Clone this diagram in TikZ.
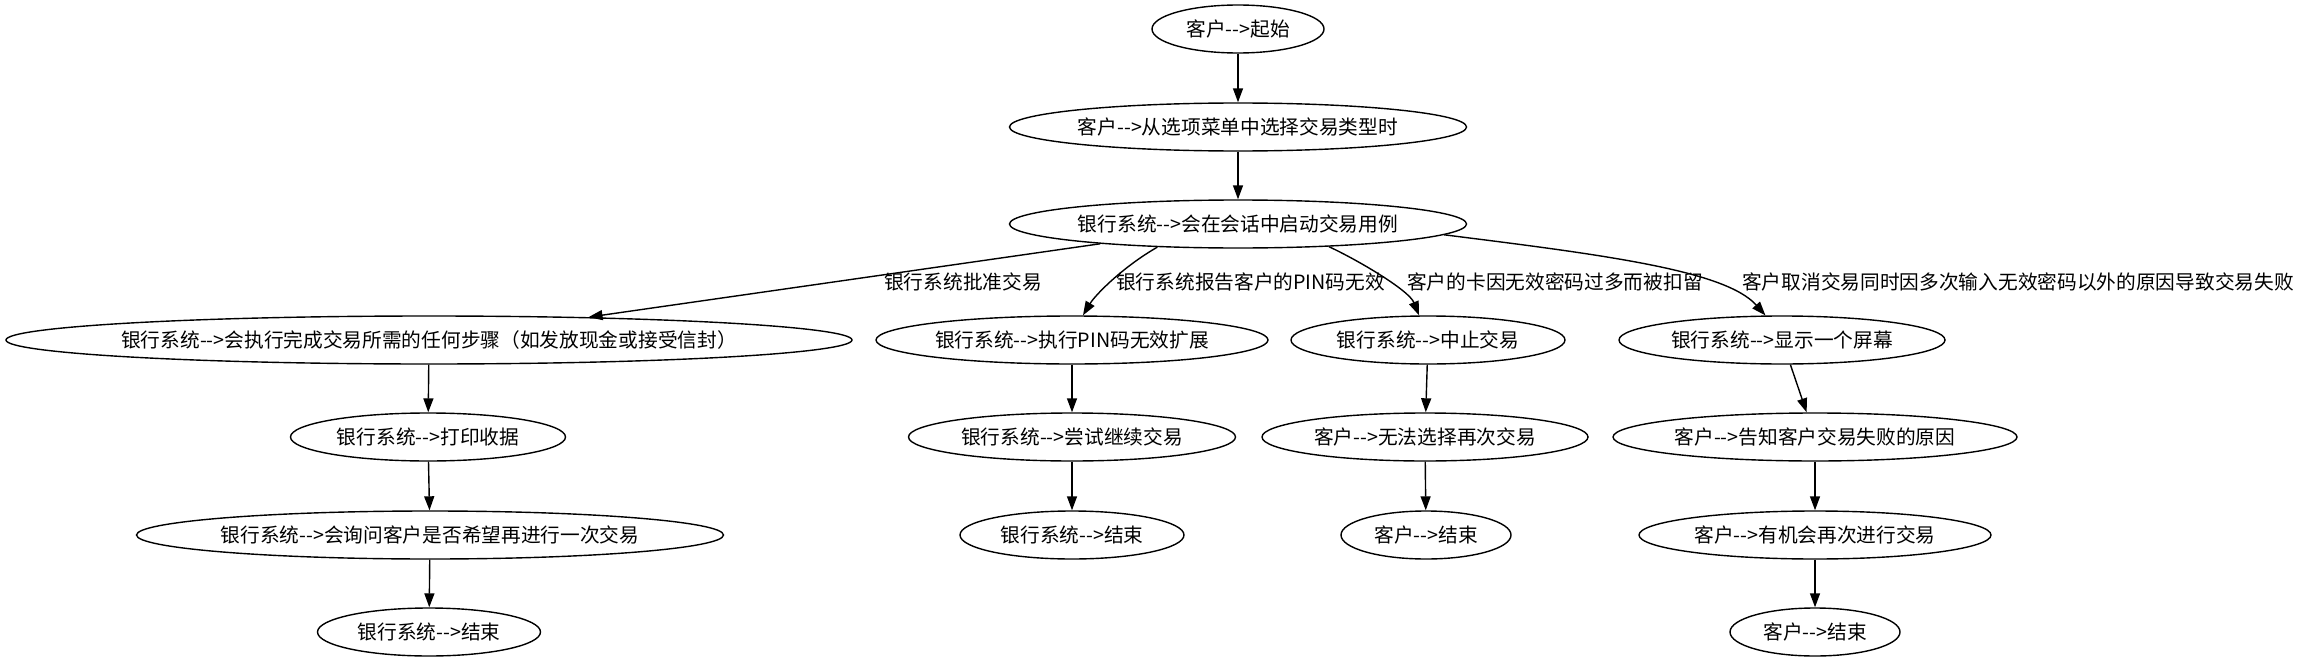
\documentclass[tikz,border=0pt]{standalone}
\usepackage{fontspec}
\setmainfont{Noto Sans CJK SC}[Ligatures=TeXOff]
\usetikzlibrary{shapes.geometric,arrows.meta}
\newcommand{\zt}[1]{\makebox[0pt]{#1}}
\begin{document}
\begin{tikzpicture}[x=1pt,y=-1pt,
  st/.style={ellipse,draw,line width=1.4pt,inner sep=0pt,minimum height=48pt,font=\fontsize{19.7}{24}\selectfont},
  lb/.style={anchor=west,inner sep=0pt,font=\fontsize{19.7}{24}\selectfont},
  ar/.style={-{Triangle[length=14pt,width=10pt]},line width=1.4pt}]
\useasboundingbox (0,0) rectangle (2305,661);
% rows 1-3
\node[st,minimum width=172pt] (r1) at (1238,29) {\zt{客户-->起始}};
\node[st,minimum width=457pt] (r2) at (1238,127) {\zt{客户-->从选项菜单中选择交易类型时}};
\node[st,minimum width=457pt] (r3) at (1238,224) {\zt{银行系统-->会在会话中启动交易用例}};
% row 4
\node[st,minimum width=846pt] (n4a) at (429,340) {\zt{银行系统-->会执行完成交易所需的任何步骤（如发放现金或接受信封）}};
\node[st,minimum width=392pt] (n4b) at (1072,340) {\zt{银行系统-->执行PIN码无效扩展}};
\node[st,minimum width=274pt] (n4c) at (1428,340) {\zt{银行系统-->中止交易}};
\node[st,minimum width=326pt] (n4d) at (1782,340) {\zt{银行系统-->显示一个屏幕}};
% row 5
\node[st,minimum width=275pt] (n5a) at (428,437) {\zt{银行系统-->打印收据}};
\node[st,minimum width=327pt] (n5b) at (1072,437) {\zt{银行系统-->尝试继续交易}};
\node[st,minimum width=326pt] (n5c) at (1425,437) {\zt{客户-->无法选择再次交易}};
\node[st,minimum width=404pt] (n5d) at (1815,437) {\zt{客户-->告知客户交易失败的原因}};
% row 6
\node[st,minimum width=587pt] (n6a) at (430,535) {\zt{银行系统-->会询问客户是否希望再进行一次交易}};
\node[st,minimum width=224pt] (n6b) at (1072,535) {\zt{银行系统-->结束}};
\node[st,minimum width=170pt] (n6c) at (1426,535) {\zt{客户-->结束}};
\node[st,minimum width=352pt] (n6d) at (1815,535) {\zt{客户-->有机会再次进行交易}};
% row 7
\node[st,minimum width=223pt] (n7a) at (429,632) {\zt{银行系统-->结束}};
\node[st,minimum width=170pt] (n7d) at (1815,632) {\zt{客户-->结束}};
% edge labels
\node[lb] (la) at (884,282) {银行系统批准交易};
\node[lb] (lbb) at (1116,282) {银行系统报告客户的PIN码无效};
\node[lb] (lc) at (1407,282) {客户的卡因无效密码过多而被扣留};
\node[lb] (ld) at (1742,282) {客户取消交易同时因多次输入无效密码以外的原因导致交易失败};
% edges
\draw[ar] (r1) -- (r2);
\draw[ar] (r2) -- (r3);
\draw[ar] (r3) -- (n4a);
\draw[ar] (r3.196) .. controls +(-35,20) and +(12,-20) .. (n4b.66);
\draw[ar] (r3.346.5) .. controls +(30,14) and +(-10,-25) .. (n4c.110);
\draw[ar] (r3.357.6) .. controls +(160,20) and +(-40,-45) .. (n4d.124);
\draw[ar] (n4a) -- (n5a);
\draw[ar] (n5a) -- (n6a);
\draw[ar] (n6a) -- (n7a);
\draw[ar] (n4b) -- (n5b);
\draw[ar] (n5b) -- (n6b);
\draw[ar] (n4c) -- (n5c);
\draw[ar] (n5c) -- (n6c);
\draw[ar] (n4d) -- (n5d);
\draw[ar] (n5d) -- (n6d);
\draw[ar] (n6d) -- (n7d);
\end{tikzpicture}
\end{document}
